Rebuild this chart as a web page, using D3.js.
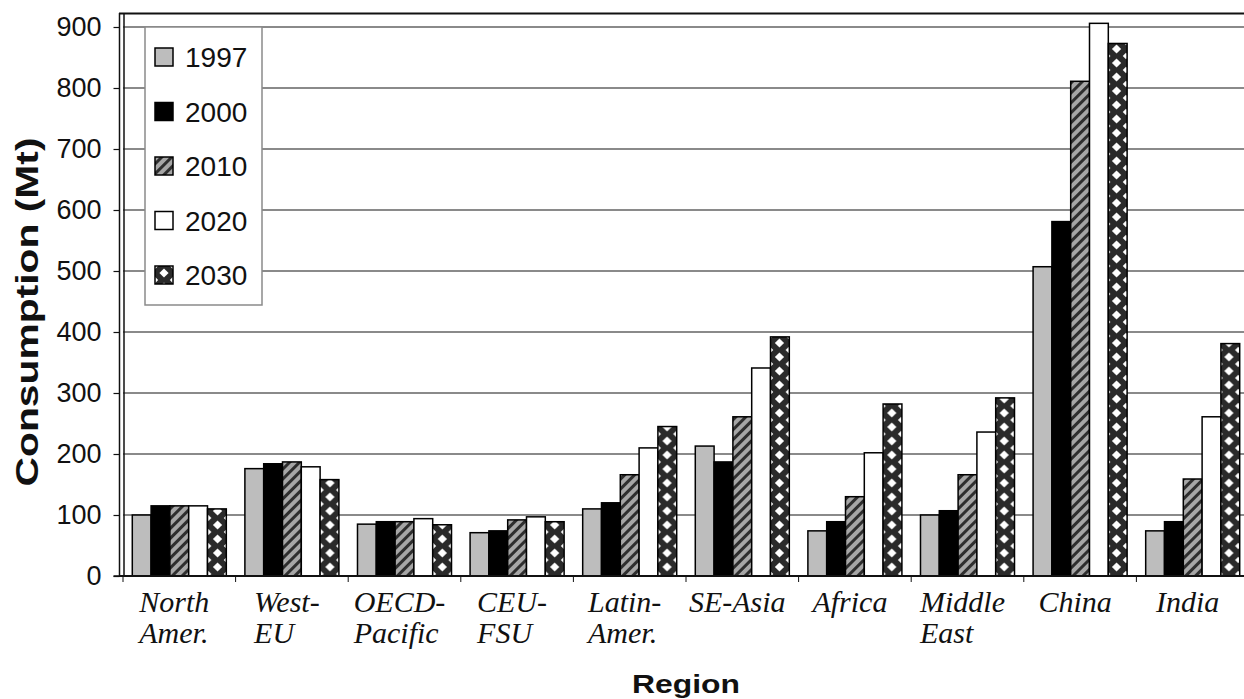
<!DOCTYPE html>
<html>
<head>
<meta charset="utf-8">
<script src="https://cdn.jsdelivr.net/npm/d3@7"></script>
<style>
html,body{margin:0;padding:0;background:#fff;}
svg{display:block;}
</style>
</head>
<body>
<svg id="chart" width="1244" height="699"></svg>
<script>
const regions = ["North Amer.","West-EU","OECD-Pacific","CEU-FSU","Latin-Amer.","SE-Asia","Africa","Middle East","China","India"];
const labelLines = [["North","Amer."],["West-","EU"],["OECD-","Pacific"],["CEU-","FSU"],["Latin-","Amer."],["SE-Asia"],["Africa"],["Middle","East"],["China"],["India"]];
const years = ["1997","2000","2010","2020","2030"];
const v1997 = [100,176,85,71,110,213,74,100,507,74];
const v2000 = [115,184,89,74,120,187,89,107,581,89];
const v2010 = [115,187,89,92,166,261,130,166,811,159];
const v2020 = [115,179,94,97,210,341,202,236,906,261];
const v2030 = [110,158,84,89,245,392,282,292,873,381];
const yTicks = [0,100,200,300,400,500,600,700,800,900];
const yTitle = "Consumption (Mt)";
const xTitle = "Region";

const seriesValues = [v1997, v2000, v2010, v2020, v2030];

const svg = d3.select("#chart");
const defs = svg.append("defs");

const x0 = d3.scaleBand().domain(regions).range([123, 1249]).paddingInner(0.165).paddingOuter(0.0825);
const x1 = d3.scaleBand().domain(years).range([0, x0.bandwidth()]);
const y = d3.scaleLinear().domain([0, 900]).range([576, 27]);

// hatch pattern
const hatch = defs.append("pattern").attr("id","hatch").attr("patternUnits","userSpaceOnUse")
  .attr("width",7).attr("height",7).attr("patternTransform","rotate(45)");
hatch.append("rect").attr("width",7).attr("height",7).attr("fill","#a6a6a6");
hatch.append("line").attr("x1",1.5).attr("y1",0).attr("x2",1.5).attr("y2",7).attr("stroke","#2e2e2e").attr("stroke-width",3);

function dotPattern(id, x0pos, w){
  const p = defs.append("pattern").attr("id",id).attr("patternUnits","userSpaceOnUse")
    .attr("x", x0pos).attr("y", 0).attr("width", w).attr("height", 14);
  p.append("rect").attr("width", w).attr("height", 14).attr("fill","#2a2a2a");
  const dia = (cx, cy, r) => `M${cx},${cy-r}L${cx+r},${cy}L${cx},${cy+r}L${cx-r},${cy}Z`;
  p.append("path").attr("d", dia(w/2, 7, 4.6)).attr("fill","#fff");
  [[0,0],[w,0],[0,14],[w,14]].forEach(([cx,cy]) => {
    p.append("path").attr("d", dia(cx, cy, 3.2)).attr("fill","#fff");
  });
}
regions.forEach((r,i) => dotPattern("dots"+i, x0(r) + x1("2030"), x1.bandwidth()));

const fills = {
  "1997": () => "#bdbdbd",
  "2000": () => "#000",
  "2010": () => "url(#hatch)",
  "2020": () => "#fff",
  "2030": (i) => `url(#dots${i})`
};

// gridlines
svg.append("g").selectAll("line").data(yTicks.filter(d => d > 0)).join("line")
  .attr("x1", 123).attr("x2", 1244)
  .attr("y1", d => y(d)).attr("y2", d => y(d))
  .attr("stroke", "#8a8a8a").attr("stroke-width", 2);

// bars
const groups = svg.append("g").selectAll("g").data(regions).join("g")
  .attr("transform", d => `translate(${x0(d)},0)`);
groups.each(function(r, i){
  d3.select(this).selectAll("rect").data(years.map((yr, k) => ({yr, v: seriesValues[k][i]}))).join("rect")
    .attr("x", d => x1(d.yr))
    .attr("y", d => y(d.v))
    .attr("width", x1.bandwidth())
    .attr("height", d => y(0) - y(d.v))
    .attr("fill", d => fills[d.yr](i))
    .attr("stroke", "#000").attr("stroke-width", 1.5);
});

// frame lines
svg.append("line").attr("x1",119).attr("x2",1244).attr("y1",13.5).attr("y2",13.5).attr("stroke","#111").attr("stroke-width",2);
svg.append("line").attr("x1",124).attr("x2",124).attr("y1",13).attr("y2",576).attr("stroke","#111").attr("stroke-width",1.5);

// y axis
const yAxis = d3.axisLeft(y).tickValues(yTicks).tickSize(6).tickPadding(12).tickFormat(d3.format("d"));
const yg = svg.append("g").attr("transform","translate(119.5,0)").call(yAxis);
yg.select(".domain").attr("stroke","#111").attr("stroke-width",1.5).attr("d","M-6,576H0V13");
yg.selectAll(".tick line").attr("stroke","#111").attr("stroke-width",1.2);
yg.selectAll(".tick text").attr("font-family","Liberation Sans, Arial, sans-serif").attr("font-size",27).attr("fill","#111").attr("dy","0.3em");

// x axis
const xAxis = d3.axisBottom(x0).tickSize(0).tickFormat("");
const xg = svg.append("g").attr("transform","translate(0,576)").call(xAxis);
xg.select(".domain").attr("stroke","#111").attr("stroke-width",2).attr("d","M119,0H1244");
const step = x0.step();
svg.append("g").selectAll("line").data(regions).join("line")
  .attr("x1", d => x0(d) - x0.paddingOuter()*step).attr("x2", d => x0(d) - x0.paddingOuter()*step)
  .attr("y1", 576).attr("y2", 582).attr("stroke","#111").attr("stroke-width",1);

// category labels
regions.forEach((r, i) => {
  const g = svg.append("g");
  const cx = x0(r) + x0.bandwidth()/2 - 5;
  const texts = labelLines[i].map((t, k) => g.append("text").text(t)
    .attr("y", 612 + k*31)
    .attr("font-family","Liberation Serif, Times New Roman, serif")
    .attr("font-style","italic").attr("font-size",30).attr("fill","#111"));
  const maxW = d3.max(texts, t => t.node().getComputedTextLength());
  texts.forEach(t => t.attr("x", cx - maxW/2));
});

// titles
svg.append("text").text(yTitle)
  .attr("transform","translate(38,312) rotate(-90)")
  .attr("text-anchor","middle")
  .attr("font-family","Liberation Sans, Arial, sans-serif").attr("font-weight","bold")
  .attr("font-size",31).attr("textLength",349).attr("lengthAdjust","spacingAndGlyphs").attr("fill","#111");
svg.append("text").text(xTitle)
  .attr("x",686).attr("y",693).attr("text-anchor","middle")
  .attr("font-family","Liberation Sans, Arial, sans-serif").attr("font-weight","bold")
  .attr("font-size",26).attr("textLength",108).attr("lengthAdjust","spacingAndGlyphs").attr("fill","#111");

// legend
const lg = svg.append("g");
lg.append("rect").attr("x",145).attr("y",27).attr("width",117).attr("height",278)
  .attr("fill","#fff").attr("stroke","#8a8a8a").attr("stroke-width",1.5);
const lgRow = d3.scalePoint().domain(years).range([57, 275]);
dotPattern("dotsLegend", 155, 18);
years.forEach(yr => {
  const cy = lgRow(yr);
  lg.append("rect").attr("x",155).attr("y",cy-9).attr("width",18).attr("height",18)
    .attr("fill", yr === "2030" ? "url(#dotsLegend)" : fills[yr](0))
    .attr("stroke","#000").attr("stroke-width",1.5);
  lg.append("text").text(yr).attr("x",185).attr("y",cy).attr("dy","0.36em")
    .attr("font-family","Liberation Sans, Arial, sans-serif").attr("font-size",28).attr("fill","#111");
});
</script>
</body>
</html>
